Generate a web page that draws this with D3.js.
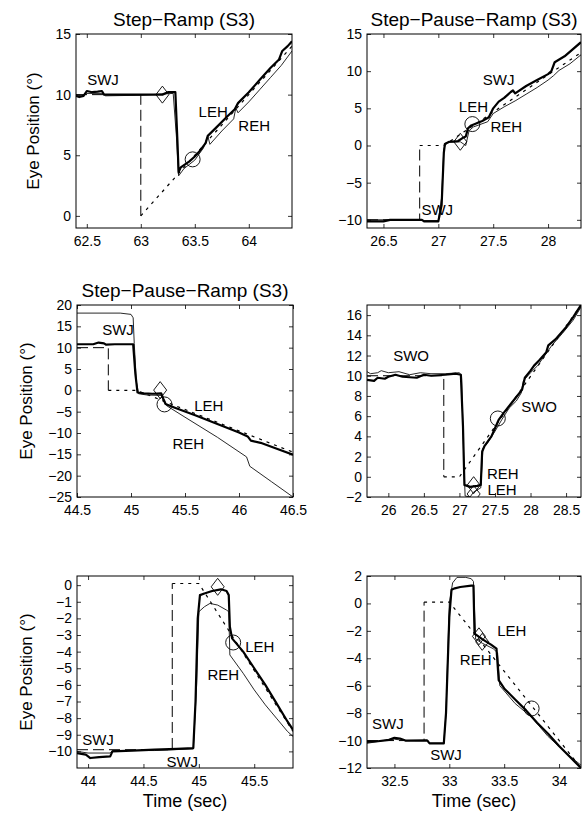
<!DOCTYPE html>
<html>
<head>
<meta charset="utf-8">
<script src="https://cdn.jsdelivr.net/npm/d3@7"></script>
<style>
  body { margin: 0; background: #fff; }
  text { font-family: "Liberation Sans", Arial, Helvetica, sans-serif; fill: #000; }
</style>
</head>
<body>
<svg id="chart" width="586" height="813"></svg>
<script>
// ---- panel 1 : Step-Ramp (62.4 - 64.4 s)
const p1TargetStep = [[62.4, 10], [63.0, 10], [63.0, 0]]
const p1TargetRamp = [[63.0, 0], [64.4, 14]]
const p1Leh = [[62.4, 9.9], [62.43, 9.8], [62.47, 9.9], [62.5, 10.3], [62.55, 10.2], [62.6, 10.25], [62.64, 10.3], [62.66, 10.0], [62.8, 10.0], [63.0, 10.0], [63.2, 10.0], [63.25, 10.2], [63.32, 10.2], [63.34, 6.0], [63.35, 3.6], [63.37, 4.0], [63.45, 4.5], [63.5, 4.9], [63.55, 5.4], [63.6, 6.0], [63.62, 6.6], [63.7, 7.3], [63.8, 8.2], [63.87, 8.8], [63.9, 9.3], [64.0, 10.2], [64.1, 11.2], [64.2, 12.2], [64.28, 12.9], [64.31, 13.6], [64.36, 14.0], [64.4, 14.4]]
const p1Reh = [[62.4, 10.0], [62.45, 9.9], [62.5, 10.1], [62.65, 10.1], [62.67, 9.9], [63.0, 9.95], [63.3, 10.1], [63.33, 6.5], [63.35, 3.3], [63.4, 3.9], [63.5, 4.6], [63.58, 5.6], [63.62, 6.6], [63.64, 5.9], [63.75, 7.0], [63.86, 8.0], [63.88, 8.9], [63.9, 8.5], [64.0, 9.4], [64.1, 10.4], [64.2, 11.4], [64.3, 12.4], [64.4, 13.6]]
const p1Diamonds = [[63.2, 10]]
const p1Circles = [[63.48, 4.66]]
const p1Notes = [['SWJ', 62.65, 11.2], ['LEH', 63.67, 8.6], ['REH', 64.05, 7.4]]
const p1XTicks = [62.5, 63, 63.5, 64]
const p1YTicks = [0, 5, 10, 15]

// ---- panel 2 : Step-Pause-Ramp (26.35 - 28.3 s)
const p2TargetStep = [[26.35, -10], [26.83, -10], [26.83, 0]]
const p2TargetRamp = [[26.83, 0], [27.05, 0], [28.3, 12.5]]
const p2Leh = [[26.35, -10.2], [26.5, -10.2], [26.56, -10.0], [26.85, -10.0], [26.87, -10.2], [27.0, -10.2], [27.03, -8], [27.05, -1.0], [27.06, 0.2], [27.1, 0.5], [27.18, 0.6], [27.22, 1.0], [27.25, 1.2], [27.27, 2.3], [27.3, 2.7], [27.4, 3.3], [27.46, 3.8], [27.5, 5.0], [27.55, 5.9], [27.6, 6.4], [27.66, 7.2], [27.68, 7.4], [27.7, 7.0], [27.8, 8.0], [27.9, 8.8], [28.0, 9.6], [28.03, 10.0], [28.06, 11.2], [28.15, 12.0], [28.3, 13.9]]
const p2Reh = [[26.35, -10.0], [26.85, -10.0], [26.87, -10.1], [27.0, -10.1], [27.03, -7], [27.05, -0.5], [27.07, 0.4], [27.2, 0.5], [27.25, 0.0], [27.28, 2.0], [27.32, 2.5], [27.45, 3.2], [27.5, 4.3], [27.6, 5.2], [27.7, 6.0], [27.8, 6.9], [27.9, 7.8], [28.0, 8.8], [28.05, 9.4], [28.1, 10.1], [28.2, 11.0], [28.3, 12.2]]
const p2Diamonds = [[27.2, 0.5]]
const p2Circles = [[27.31, 2.88]]
const p2Notes = [['SWJ', 27.55, 8.8], ['LEH', 27.32, 5.2], ['REH', 27.62, 2.5], ['SWJ', 26.99, -8.65]]
const p2XTicks = [26.5, 27, 27.5, 28]
const p2YTicks = [-10, -5, 0, 5, 10, 15]

// ---- panel 3 : Step-Pause-Ramp (44.5 - 46.5 s)
const p3TargetStep = [[44.5, 10], [44.79, 10], [44.79, 0]]
const p3TargetRamp = [[44.79, 0], [45.05, 0], [46.5, -14.5]]
const p3Leh = [[44.5, 10.8], [44.65, 10.8], [44.7, 11.2], [44.75, 11.0], [44.77, 10.7], [44.85, 10.8], [45.02, 10.8], [45.04, 4], [45.06, -0.5], [45.12, -0.7], [45.2, -0.8], [45.28, -0.7], [45.3, -2.0], [45.32, -3.2], [45.4, -4.0], [45.6, -5.9], [45.8, -7.9], [46.0, -9.9], [46.08, -10.8], [46.11, -11.8], [46.2, -12.3], [46.35, -13.7], [46.5, -15.1]]
const p3Reh = [[44.5, 18.1], [44.9, 18.1], [45.0, 17.8], [45.02, 17.0], [45.03, 11.0], [45.05, 2], [45.07, -0.8], [45.15, -1.1], [45.28, -1.2], [45.3, -2.5], [45.33, -3.6], [45.5, -6.3], [45.8, -11.0], [46.07, -15.6], [46.1, -17.8], [46.3, -21.4], [46.5, -25]]
const p3Diamonds = [[45.27, 0.05]]
const p3Circles = [[45.31, -3.3]]
const p3Notes = [['SWJ', 44.88, 14.1], ['LEH', 45.72, -3.5], ['REH', 45.53, -12.5]]
const p3XTicks = [44.5, 45, 45.5, 46, 46.5]
const p3YTicks = [-25, -20, -15, -10, -5, 0, 5, 10, 15, 20]

// ---- panel 4 : (25.7 - 28.71 s)
const p4TargetStep = [[25.7, 10], [26.78, 10], [26.78, 0]]
const p4TargetRamp = [[26.78, 0], [27.0, 0], [28.71, 17]]
const p4Leh = [[25.7, 9.6], [25.8, 9.5], [25.85, 9.8], [25.95, 9.7], [26.0, 9.9], [26.1, 10.1], [26.2, 9.9], [26.4, 9.8], [26.5, 10.1], [26.6, 10.0], [26.8, 10.1], [26.95, 10.2], [27.02, 10.1], [27.05, 5], [27.07, -0.8], [27.15, -1.0], [27.25, -0.9], [27.3, -0.8], [27.32, 2.5], [27.35, 3.0], [27.45, 4.0], [27.5, 4.8], [27.55, 5.6], [27.62, 6.3], [27.7, 7.0], [27.8, 7.9], [27.88, 8.6], [27.92, 9.8], [28.0, 10.5], [28.05, 11.0], [28.12, 11.5], [28.22, 12.3], [28.25, 13.0], [28.35, 13.6], [28.5, 14.8], [28.6, 15.8], [28.71, 17.0]]
const p4Reh = [[25.7, 10.4], [25.75, 10.2], [25.85, 10.3], [25.9, 10.5], [26.0, 10.3], [26.15, 10.4], [26.3, 10.1], [26.45, 10.3], [26.6, 10.2], [26.8, 10.2], [27.0, 10.3], [27.03, 10.0], [27.06, 2], [27.08, -1.9], [27.15, -2.0], [27.2, -1.5], [27.3, -1.1], [27.33, 2.8], [27.4, 3.4], [27.5, 4.5], [27.6, 5.7], [27.7, 6.8], [27.8, 7.5], [27.87, 8.3], [27.9, 9.5], [28.0, 10.3], [28.1, 11.0], [28.2, 12.0], [28.3, 13.0], [28.45, 14.2], [28.6, 15.5], [28.71, 16.8]]
const p4Diamonds = [[27.2, -0.83], [27.2, -1.7]]
const p4Circles = [[27.54, 5.77]]
const p4Notes = [['SWO', 26.32, 12.0], ['SWO', 28.12, 6.9], ['REH', 27.61, 0.35], ['LEH', 27.6, -1.3]]
const p4XTicks = [26, 26.5, 27, 27.5, 28, 28.5]
const p4YTicks = [-2, 0, 2, 4, 6, 8, 10, 12, 14, 16]

// ---- panel 5 : (43.9 - 45.85 s)
const p5TargetStep = [[43.9, -9.9], [44.76, -9.9], [44.76, 0.1]]
const p5TargetRamp = [[44.76, 0.1], [45.0, 0.1], [45.85, -8.8]]
const p5Leh = [[43.9, -10.1], [43.98, -10.2], [44.02, -10.4], [44.1, -10.35], [44.2, -10.3], [44.22, -10.0], [44.4, -9.95], [44.6, -9.9], [44.8, -9.85], [44.95, -9.8], [44.97, -7], [44.99, -2], [45.01, -0.6], [45.05, -0.5], [45.12, -0.35], [45.2, -0.25], [45.25, -0.35], [45.27, -0.6], [45.28, -2.5], [45.3, -3.2], [45.4, -4.0], [45.5, -5.0], [45.6, -6.0], [45.7, -7.1], [45.8, -8.2], [45.85, -8.7]]
const p5Reh = [[43.9, -10.0], [44.0, -10.1], [44.2, -10.1], [44.22, -9.95], [44.6, -9.95], [44.95, -9.85], [44.98, -6], [45.0, -1.6], [45.05, -1.3], [45.1, -1.1], [45.17, -1.2], [45.25, -1.5], [45.27, -1.6], [45.28, -4.2], [45.4, -5.3], [45.5, -6.3], [45.6, -7.2], [45.7, -8.0], [45.8, -8.8], [45.85, -9.1]]
const p5Diamonds = [[45.17, -0.1]]
const p5Circles = [[45.31, -3.45]]
const p5Notes = [['SWJ', 44.09, -9.3], ['SWJ', 44.85, -10.6], ['LEH', 45.55, -3.7], ['REH', 45.22, -5.4]]
const p5XTicks = [44, 44.5, 45, 45.5]
const p5YTicks = [-10, -9, -8, -7, -6, -5, -4, -3, -2, -1, 0]

// ---- panel 6 : (32.25 - 34.2 s)
const p6TargetStep = [[32.25, -10], [32.77, -10], [32.77, 0.1]]
const p6TargetRamp = [[32.77, 0.1], [33.0, 0.1], [34.2, -12]]
const p6Leh = [[32.25, -10.1], [32.35, -10.05], [32.45, -9.95], [32.5, -9.8], [32.55, -9.85], [32.6, -10.0], [32.8, -10.0], [32.82, -10.2], [32.95, -10.2], [32.97, -8], [33.0, -1], [33.02, 1.0], [33.05, 1.1], [33.1, 1.2], [33.2, 1.3], [33.22, 1.3], [33.23, -2.2], [33.3, -2.6], [33.38, -3.0], [33.43, -3.3], [33.45, -5.6], [33.5, -6.2], [33.6, -7.0], [33.7, -7.8], [33.8, -8.7], [33.9, -9.5], [34.0, -10.4], [34.1, -11.2], [34.2, -12.0]]
const p6Reh = [[32.25, -10.2], [32.4, -10.0], [32.5, -9.9], [32.6, -10.0], [32.8, -9.95], [32.82, -10.2], [32.95, -10.2], [32.97, -8], [33.0, 0], [33.03, 1.5], [33.07, 1.9], [33.15, 1.9], [33.2, 1.8], [33.22, 1.6], [33.24, -2.6], [33.3, -2.9], [33.4, -3.3], [33.44, -3.6], [33.46, -6.0], [33.6, -7.3], [33.75, -8.3], [33.9, -9.7], [34.05, -10.8], [34.2, -11.8]]
const p6Diamonds = [[33.27, -2.4], [33.3, -2.8]]
const p6Circles = [[33.75, -7.66]]
const p6Notes = [['SWJ', 32.44, -8.8], ['SWJ', 32.97, -11.0], ['LEH', 33.57, -1.96], ['REH', 33.24, -4.1]]
const p6XTicks = [32.5, 33, 33.5, 34]
const p6YTicks = [-12, -10, -8, -6, -4, -2, 0, 2]

const titles = ['Step\u2212Ramp (S3)', 'Step\u2212Pause\u2212Ramp (S3)', 'Step\u2212Pause\u2212Ramp (S3)', '', '', '']

// layout of the 2x3 grid
const panels = [
  { x: 76,  y: 34,  w: 216, h: 194, xDomain: [62.4, 64.4],   yDomain: [-1, 15],    step: p1TargetStep, ramp: p1TargetRamp, leh: p1Leh, reh: p1Reh, diamonds: p1Diamonds, circles: p1Circles, notes: p1Notes, xTicks: p1XTicks, yTicks: p1YTicks, yLabel: true,  xLabel: false },
  { x: 367, y: 34,  w: 214, h: 194, xDomain: [26.35, 28.3],  yDomain: [-11.1, 15], step: p2TargetStep, ramp: p2TargetRamp, leh: p2Leh, reh: p2Reh, diamonds: p2Diamonds, circles: p2Circles, notes: p2Notes, xTicks: p2XTicks, yTicks: p2YTicks, yLabel: false, xLabel: false },
  { x: 77,  y: 305, w: 216, h: 192, xDomain: [44.5, 46.5],   yDomain: [-25, 20],   step: p3TargetStep, ramp: p3TargetRamp, leh: p3Leh, reh: p3Reh, diamonds: p3Diamonds, circles: p3Circles, notes: p3Notes, xTicks: p3XTicks, yTicks: p3YTicks, yLabel: true,  xLabel: false },
  { x: 367, y: 305, w: 214, h: 192, xDomain: [25.7, 28.71],  yDomain: [-2, 17],    step: p4TargetStep, ramp: p4TargetRamp, leh: p4Leh, reh: p4Reh, diamonds: p4Diamonds, circles: p4Circles, notes: p4Notes, xTicks: p4XTicks, yTicks: p4YTicks, yLabel: false, xLabel: false },
  { x: 77,  y: 576, w: 216, h: 192, xDomain: [43.9, 45.85],  yDomain: [-11, 0.55], step: p5TargetStep, ramp: p5TargetRamp, leh: p5Leh, reh: p5Reh, diamonds: p5Diamonds, circles: p5Circles, notes: p5Notes, xTicks: p5XTicks, yTicks: p5YTicks, yLabel: true,  xLabel: true },
  { x: 367, y: 576, w: 214, h: 192, xDomain: [32.25, 34.2],  yDomain: [-12, 2],    step: p6TargetStep, ramp: p6TargetRamp, leh: p6Leh, reh: p6Reh, diamonds: p6Diamonds, circles: p6Circles, notes: p6Notes, xTicks: p6XTicks, yTicks: p6YTicks, yLabel: false, xLabel: true }
]

const svg = d3.select('#chart')
svg.append('rect').attr('width', 586).attr('height', 813).attr('fill', '#fff')

const fmt = d3.format('~g')
const TICK = 4

const styleAxis = (sel) => {
  sel.attr('font-size', 14).attr('font-family', null)
  sel.select('.domain').remove()
  sel.selectAll('.tick line').attr('stroke', '#000').attr('stroke-width', 0.8)
}

const drawPanel = (p, i) => {
  const g = svg.append('g').attr('transform', `translate(${p.x},${p.y})`)
  const x = d3.scaleLinear().domain(p.xDomain).range([0, p.w])
  const y = d3.scaleLinear().domain(p.yDomain).range([p.h, 0])

  g.append('clipPath').attr('id', `clip${i}`)
    .append('rect').attr('width', p.w).attr('height', p.h)
  const plot = g.append('g').attr('clip-path', `url(#clip${i})`)

  const line = d3.line().x(d => x(d[0])).y(d => y(d[1]))

  // target: step part long dashed, pause + ramp short dashed
  plot.append('path').datum(p.step)
    .attr('d', line).attr('fill', 'none')
    .attr('stroke', '#000').attr('stroke-width', 1)
    .attr('stroke-dasharray', '11,5')
  plot.append('path').datum(p.ramp)
    .attr('d', line).attr('fill', 'none')
    .attr('stroke', '#000').attr('stroke-width', 1.2)
    .attr('stroke-dasharray', '3,5')

  // right eye (thin) and left eye (thick)
  plot.append('path').datum(p.reh)
    .attr('d', line).attr('fill', 'none')
    .attr('stroke', '#111').attr('stroke-width', 0.9)
    .attr('stroke-linejoin', 'round')
  plot.append('path').datum(p.leh)
    .attr('d', line).attr('fill', 'none')
    .attr('stroke', '#000').attr('stroke-width', 2.2)
    .attr('stroke-linejoin', 'round')

  // event markers
  plot.selectAll('.diamond').data(p.diamonds).enter()
    .append('path').attr('class', 'diamond')
    .attr('d', 'M0,-8.5L6.5,0L0,8.5L-6.5,0Z')
    .attr('transform', d => `translate(${x(d[0])},${y(d[1])})`)
    .attr('fill', 'none').attr('stroke', '#000').attr('stroke-width', 0.9)
  plot.selectAll('.circ').data(p.circles).enter()
    .append('circle').attr('class', 'circ')
    .attr('cx', d => x(d[0])).attr('cy', d => y(d[1])).attr('r', 7.5)
    .attr('fill', 'none').attr('stroke', '#000').attr('stroke-width', 0.9)

  // annotations
  g.selectAll('.note').data(p.notes).enter()
    .append('text').attr('class', 'note')
    .attr('x', d => x(d[1])).attr('y', d => y(d[2]))
    .attr('dy', '0.35em').attr('text-anchor', 'middle')
    .attr('font-size', 15)
    .text(d => d[0])

  // axes, ticks pointing inward on all four sides
  g.append('g').attr('transform', `translate(0,${p.h})`)
    .call(d3.axisBottom(x).tickValues(p.xTicks).tickFormat(fmt).tickSizeInner(-TICK).tickSizeOuter(0).tickPadding(8))
    .call(styleAxis)
  g.append('g')
    .call(d3.axisTop(x).tickValues(p.xTicks).tickFormat('').tickSizeInner(-TICK).tickSizeOuter(0))
    .call(styleAxis)
  const yAxis = g.append('g')
    .call(d3.axisLeft(y).tickValues(p.yTicks).tickFormat(fmt).tickSizeInner(-TICK).tickSizeOuter(0).tickPadding(5))
    .call(styleAxis)
  g.append('g').attr('transform', `translate(${p.w},0)`)
    .call(d3.axisRight(y).tickValues(p.yTicks).tickFormat('').tickSizeInner(-TICK).tickSizeOuter(0))
    .call(styleAxis)

  g.append('rect').attr('width', p.w).attr('height', p.h)
    .attr('fill', 'none').attr('stroke', '#000').attr('stroke-width', 1)

  if (titles[i]) {
    g.append('text').attr('x', p.w / 2).attr('y', -8)
      .attr('text-anchor', 'middle').attr('font-size', 19)
      .text(titles[i])
  }
  if (p.yLabel) {
    const bb = yAxis.node().getBBox()
    const cx = bb.x - 22
    g.append('text')
      .attr('transform', `translate(${cx},${p.h / 2}) rotate(-90)`)
      .attr('dy', '0.35em').attr('text-anchor', 'middle').attr('font-size', 17)
      .text('Eye Position (\u00B0)')
  }
  if (p.xLabel) {
    g.append('text').attr('x', p.w / 2).attr('y', p.h + 39)
      .attr('text-anchor', 'middle').attr('font-size', 18)
      .text('Time (sec)')
  }
}

panels.forEach(drawPanel)
</script>
</body>
</html>
